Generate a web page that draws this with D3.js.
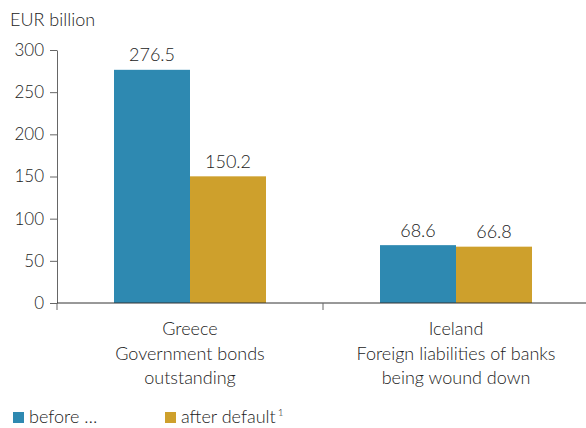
<!DOCTYPE html>
<html>
<head>
<meta charset="utf-8">
<script src="https://cdn.jsdelivr.net/npm/d3@7"></script>
<style>
  html, body { margin: 0; padding: 0; background: #fff; }
  svg { display: block; font-family: Lato, "Open Sans", sans-serif; font-weight: 300; }
</style>
</head>
<body>
<svg id="chart" width="586" height="428"></svg>
<script>
// Category groups (each label drawn on several lines)
const categories = ["Greece", "Iceland"];
const categoryLines = [
  ["Greece", "Government bonds", "outstanding"],
  ["Iceland", "Foreign liabilities of banks", "being wound down"]
];
const seriesNames = ["before", "after"];
const seriesLabels = ["before \u2026", "after default"];
const beforeValues = [276.5, 68.6];
const afterValues = [150.2, 66.8];
const yTicks = [0, 50, 100, 150, 200, 250, 300];
const colors = ["#2e89b1", "#cea02c"];

const svg = d3.select("#chart");
const textColor = "#222";

const x0 = d3.scaleBand().domain(categories).range([57, 589]).padding(0);
const y = d3.scaleLinear().domain([0, 300]).range([303, 50]);
const x1 = d3.scaleBand().domain(seriesNames).range([0, 152]);

// Bars
const rows = categories.map((c, i) => ({ cat: c, values: [beforeValues[i], afterValues[i]] }));
const groups = svg.append("g").selectAll("g").data(rows).join("g")
  .attr("transform", d => `translate(${x0(d.cat) + (x0.bandwidth() - 152) / 2},0)`);

groups.selectAll("rect")
  .data(d => d.values.map((v, j) => ({ key: seriesNames[j], v, j })))
  .join("rect")
  .attr("x", d => x1(d.key))
  .attr("width", x1.bandwidth())
  .attr("y", d => y(d.v))
  .attr("height", d => y(0) - y(d.v))
  .attr("fill", d => colors[d.j]);

groups.selectAll("text.val")
  .data(d => d.values.map((v, j) => ({ key: seriesNames[j], v, j })))
  .join("text")
  .attr("class", "val")
  .attr("x", d => x1(d.key) + x1.bandwidth() / 2)
  .attr("y", d => y(d.v) - 8.5)
  .attr("text-anchor", "middle")
  .attr("font-size", 18)
  .attr("fill", textColor)
  .text(d => d3.format(".1f")(d.v));

// Y axis
const yAxis = svg.append("g")
  .attr("transform", "translate(57,0)")
  .call(d3.axisLeft(y).tickValues(yTicks).tickSize(7).tickPadding(6).tickSizeOuter(0));
yAxis.select(".domain").attr("stroke", "#666");
yAxis.selectAll(".tick line").attr("stroke", "#666");
yAxis.selectAll("text").attr("font-size", 17).attr("fill", textColor)
  .attr("font-family", "Lato, sans-serif").attr("font-weight", 300);

// X axis baseline with category separators
svg.append("line").attr("x1", 57).attr("x2", 586).attr("y1", y(0)).attr("y2", y(0))
  .attr("stroke", "#333").attr("stroke-width", 1);
[x0(categories[0]), x0(categories[1])].forEach(px => {
  svg.append("line").attr("x1", px).attr("x2", px).attr("y1", y(0)).attr("y2", y(0) + 7)
    .attr("stroke", "#666");
});

// Category labels
categories.forEach((c, i) => {
  const t = svg.append("text")
    .attr("text-anchor", "middle")
    .attr("font-size", 18)
    .attr("fill", textColor);
  categoryLines[i].forEach((line, k) => {
    t.append("tspan").attr("x", x0(c) + x0.bandwidth() / 2).attr("y", 335 + k * 24.5).text(line);
  });
});

// Unit label
svg.append("text").attr("x", 10).attr("y", 26).attr("font-size", 18).attr("fill", textColor)
  .text("EUR billion");

// Legend
const legendX = [13, 165];
seriesLabels.forEach((lab, i) => {
  svg.append("rect").attr("x", legendX[i]).attr("y", 412).attr("width", 11).attr("height", 11)
    .attr("fill", colors[i]);
  const t = svg.append("text").attr("x", legendX[i] + 16).attr("y", 423)
    .attr("font-size", 18).attr("fill", textColor).text(lab);
  if (i === 1) {
    t.append("tspan").attr("font-size", 10).attr("dx", 2).attr("dy", -7).text("1");
  }
});
</script>
</body>
</html>
